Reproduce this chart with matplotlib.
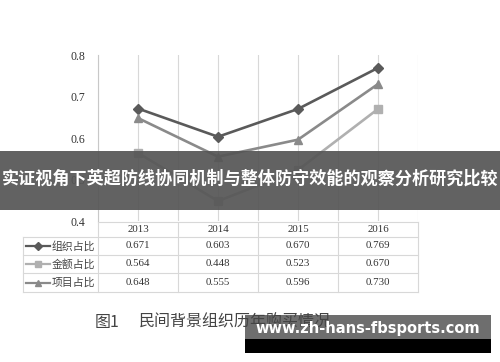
import numpy as np
import matplotlib.pyplot as plt
from matplotlib.patches import Rectangle

plt.rcParams['font.family'] = ['Noto Sans CJK SC', 'DejaVu Sans']

years = ['2013', '2014', '2015', '2016']
org_share = [0.671, 0.603, 0.670, 0.769]
amount_share = [0.564, 0.448, 0.523, 0.670]
project_share = [0.648, 0.555, 0.596, 0.730]
series_names = ['组织占比', '金额占比', '项目占比']
y_ticks = [0.4, 0.5, 0.6, 0.7, 0.8]
banner_text = '实证视角下英超防线协同机制与整体防守效能的观察分析研究比较'
caption_no = '图1'
caption_text = '民间背景组织历年购买情况'
watermark = 'www.zh-hans-fbsports.com'

series = [org_share, amount_share, project_share]
colors = ['#5a5a5a', '#b0b0b0', '#8a8a8a']
markers = ['D', 's', '^']
msizes = [5, 6, 6]
grid_c = '#d8d8d8'

fig = plt.figure(figsize=(5, 3.62), dpi=100)
W, H = 500, 362

# main chart area in pixel coords
L, R, T, B = 98, 418, 55, 221
ax = fig.add_axes([L / W, 1 - B / H, (R - L) / W, (B - T) / H])
x = np.arange(len(years)) + 0.5
for vals, c, m, ms in zip(series, colors, markers, msizes):
    ax.plot(x, vals, color=c, lw=1.9, marker=m, ms=ms, zorder=3)
ax.set_xlim(0, len(years))
ax.set_ylim(y_ticks[0], y_ticks[-1])
ax.set_yticks(y_ticks)
ax.set_yticklabels([f'{v:.1f}' for v in y_ticks], family='Liberation Serif',
                   fontsize=8.5, color='#333333')
ax.set_xticks(np.arange(0, len(years) + 0.01, 0.5))
ax.set_xticklabels([])
ax.tick_params(length=0, pad=9)
ax.grid(axis='x', color=grid_c, lw=0.8)
for s in ['top', 'right', 'bottom']:
    ax.spines[s].set_visible(False)
ax.spines['left'].set_color('#c8c8c8')

# overlay in pixel coordinates for table, banner, caption
ov = fig.add_axes([0, 0, 1, 1], zorder=5)
ov.set_xlim(0, W)
ov.set_ylim(H, 0)
ov.axis('off')

# data table
col_w = (R - L) / len(years)
rows_y = [222, 237, 255, 273, 292]
ov.plot([L, R], [rows_y[0], rows_y[0]], color=grid_c, lw=0.8)
for yy in rows_y[1:]:
    ov.plot([23, R], [yy, yy], color=grid_c, lw=0.8)
ov.plot([23, 23], [rows_y[1], rows_y[-1]], color=grid_c, lw=0.8)
for i in range(len(years) + 1):
    xx = L + i * col_w
    ov.plot([xx, xx], [rows_y[0], rows_y[-1]], color=grid_c, lw=0.8)
for i, yr in enumerate(years):
    ov.text(L + (i + 0.5) * col_w, (rows_y[0] + rows_y[1]) / 2, yr,
            ha='center', va='center', family='Liberation Serif',
            fontsize=7.8, color='#333333')
for r, (name, vals, c, m) in enumerate(zip(series_names, series, colors, markers)):
    yc = (rows_y[r + 1] + rows_y[r + 2]) / 2
    ov.plot([26, 50], [yc, yc], color=c, lw=1.6)
    ov.plot([38], [yc], color=c, marker=m, ms=4)
    ov.text(52, yc, name, ha='left', va='center', fontsize=7.8, color='#444444')
    for i, v in enumerate(vals):
        ov.text(L + (i + 0.5) * col_w, yc, f'{v:.3f}', ha='center', va='center',
                family='Liberation Serif', fontsize=7.8, color='#333333')

# banner
ov.add_patch(Rectangle((0, 151), W, 59, color='#555555', alpha=0.92, lw=0))
ov.text(W / 2, 179, banner_text, ha='center', va='center', color='white',
        fontsize=12.3, fontweight='bold')

# caption
ov.text(95, 322, caption_no, ha='left', va='center', fontsize=11.5, color='#444444')
ov.text(139, 322, caption_text, ha='left', va='center', fontsize=11.5, color='#444444')

# watermark
ov.add_patch(Rectangle((245, 315), 246, 24, color='#6e6e6e', lw=0))
ov.add_patch(Rectangle((245, 339), 246, 14, color='black', lw=0))
ov.text(368, 329, watermark, ha='center', va='center', color='white',
        fontsize=10.5, fontweight='bold', family='DejaVu Sans')

fig.savefig('out.png', dpi=100)
